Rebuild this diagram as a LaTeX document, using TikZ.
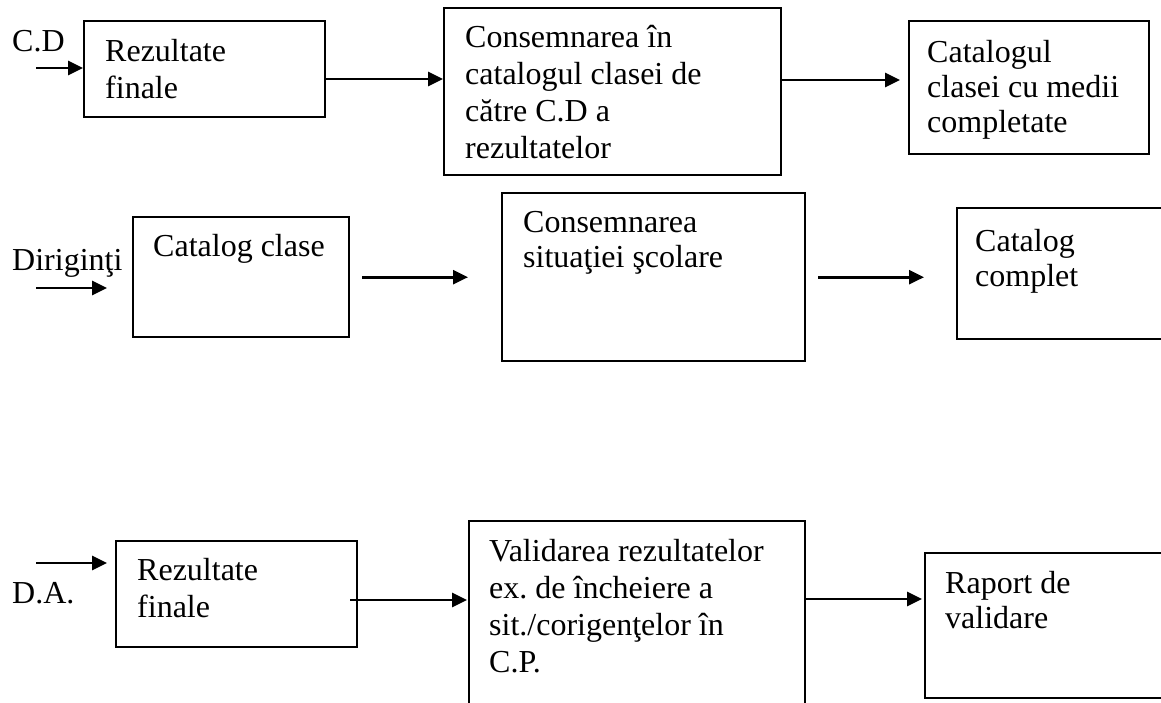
\documentclass[tikz,border=0pt]{standalone}
\usepackage{fontspec}
\setmainfont{Liberation Serif}
\usetikzlibrary{arrows.meta}
\newcommand{\rsTop}{\rule{0pt}{24pt}}
\tikzset{
  box/.style={draw, line width=2.4pt, rectangle, inner sep=0pt, anchor=north west},
  txt/.style={anchor=north west, inner sep=0pt, align=left, font=\fontsize{32}{37}\selectfont},
  txtm/.style={txt, font=\fontsize{32}{35}\selectfont},
  txtb/.style={txt, font=\fontsize{32}{35.5}\selectfont},
  lbl/.style={anchor=base west, inner sep=0pt, font=\fontsize{32}{37}\selectfont},
  arr/.style={line width=2.7pt, -{Triangle[length=15pt,width=14pt]}},
}
\begin{document}
\frenchspacing
\setlength{\lineskiplimit}{-100pt}
\begin{tikzpicture}[x=1pt, y=-1pt]
\useasboundingbox (0,0) rectangle (1161,702);
\clip (0,0) rectangle (1161,702);
% ---- row 1 ----
\node[box, minimum width=241pt, minimum height=96pt]  (b1) at (83,20) {};
\node[box, minimum width=337pt, minimum height=167pt] (b2) at (443,7) {};
\node[box, minimum width=240pt, minimum height=133pt] (b3) at (908,20) {};
\node[txt]  (t1) at (105,37) {\rsTop Rezultate\\finale};
\node[txt]  (t2) at (465,23) {\rsTop Consemnarea în\\catalogul clasei de\\către C.D a\\rezultatelor};
\node[txtm] (t3) at (927,38) {\rsTop Catalogul\\clasei cu medii\\completate};
\node[lbl]  (l1) at (12,51) {C.D};
\coordinate (in1) at (36,68);
\draw[arr] (in1) -- (b1.west |- in1);
\draw[arr] (b1.east |- 0,79) -- (b2.west |- 0,79);
\draw[arr] (b2.east |- 0,80) -- ([xshift=-8pt]b3.west |- 0,80);
% ---- row 2 ----
\node[box, minimum width=216pt, minimum height=120pt] (b4) at (132,216) {};
\node[box, minimum width=303pt, minimum height=168pt] (b5) at (501,192) {};
\node[box, minimum width=240pt, minimum height=131pt] (b6) at (956,207) {};
\node[txt]  (t4) at (153,232) {\rsTop Catalog clase};
\node[txtb] (t5) at (523,208) {\rsTop Consemnarea\\situaţiei şcolare};
\node[txtb] (t6) at (975,227) {\rsTop Catalog\\complet};
\node[lbl]  (l2) at (12,270) {Diriginţi};
\coordinate (in2s) at (36,288);
\coordinate (in2e) at (107,288);
\draw[arr] (in2s) -- (in2e);
\draw[arr] ([xshift=12pt]b4.east) -- ([xshift=-33pt]b5.west |- b4.east);
\draw[arr] ([xshift=12pt]b5.east) -- ([xshift=-32pt]b6.west |- b5.east);
% ---- row 3 ----
\node[box, minimum width=241pt, minimum height=106pt] (b7) at (115,540) {};
\node[box, minimum width=336pt, minimum height=200pt] (b8) at (468,520) {};
\node[box, minimum width=250pt, minimum height=145pt] (b9) at (924,552) {};
\node[txt]  (t7) at (137,556) {\rsTop Rezultate\\finale};
\node[txt]  (t8) at (489,537) {\rsTop Validarea rezultatelor\\ex. de încheiere a\\sit./corigenţelor în\\C.P.};
\node[txtm] (t9) at (945,569) {\rsTop Raport de\\validare};
\node[lbl]  (l3) at (12,603) {D.A.};
\coordinate (in3s) at (36,563);
\coordinate (in3e) at (107,563);
\draw[arr] (in3s) -- (in3e);
\draw[arr] ([xshift=-8pt]b7.east |- 0,600) -- ([xshift=-1pt]b8.west |- 0,600);
\draw[arr] (b8.east |- 0,599) -- ([xshift=-2pt]b9.west |- 0,599);
\end{tikzpicture}
\end{document}
